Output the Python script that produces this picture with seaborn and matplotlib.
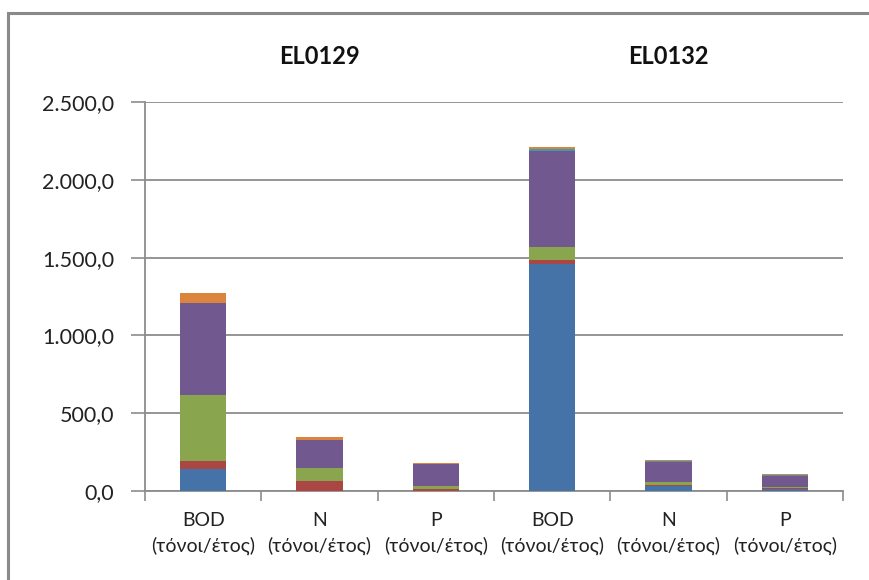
import matplotlib
matplotlib.use("Agg")
import matplotlib.pyplot as plt
import matplotlib.patches as mpatches
from matplotlib.transforms import blended_transform_factory
from matplotlib.ticker import FuncFormatter, FixedLocator
import numpy as np
import pandas as pd
import seaborn as sns

# Water bodies and the load parameters reported for each
stations = ["EL0129", "EL0132"]
parameters = ["BOD\n(τόνοι/έτος)", "N\n(τόνοι/έτος)", "P\n(τόνοι/έτος)"]

# Annual loads per pressure source (tonnes/year), stacked bottom to top
source_1 = [140, 0, 2, 1457, 32, 11]
source_2 = [55, 64, 13, 26, 9, 8]
source_3 = [420, 82, 15, 82, 19, 9]
source_4 = [596, 182, 142, 623, 129, 70]
source_5 = [0, 0, 0, 10, 6, 4]
source_6 = [64, 17, 8, 12, 7, 5]

layers = [source_1, source_2, source_3, source_4, source_5, source_6]
colors = ["#4572A7", "#AA4643", "#89A54E", "#71588F", "#4198AF", "#DB843D"]

keys = [f"{s} {p.split(chr(10))[0]}" for s in stations for p in parameters]
tick_labels = [p for s in stations for p in parameters]

sns.set_theme(style="white")
plt.rcParams["font.family"] = ["Lato", "Open Sans", "DejaVu Sans"]

fig = plt.figure(figsize=(8.69, 5.80), dpi=100)
ax = fig.add_axes([145 / 869, 1 - 491 / 580, (843 - 145) / 869, (491 - 102) / 580])

# Cumulative heights, drawn tallest first so lower segments sit on top
cum = np.cumsum(np.array(layers, dtype=float), axis=0)
for level in range(len(layers) - 1, -1, -1):
    df = pd.DataFrame({"key": keys, "load": cum[level]})
    sns.barplot(data=df, x="key", y="load", order=keys, color=colors[level],
                saturation=1, width=0.4, linewidth=0, ax=ax, zorder=3)

ax.set_ylim(0, 2500)
ax.set_xlim(-0.5, len(keys) - 0.5)
ax.yaxis.set_major_locator(FixedLocator([0, 500, 1000, 1500, 2000, 2500]))


def greek_number(v, pos):
    s = f"{v:,.1f}"
    return s.replace(",", "X").replace(".", ",").replace("X", ".")


ax.yaxis.set_major_formatter(FuncFormatter(greek_number))
ax.set_xlabel("")
ax.set_ylabel("")

grid_color = "#8C8C8C"
ax.grid(axis="y", color=grid_color, linewidth=1.3, zorder=0)
ax.set_axisbelow(True)
for side in ["top", "right"]:
    ax.spines[side].set_visible(False)
for side in ["left", "bottom"]:
    ax.spines[side].set_color(grid_color)
    ax.spines[side].set_linewidth(1.3)

ax.set_xticks(range(len(keys)))
ax.set_xticklabels(tick_labels, fontsize=14, color="#222222", linespacing=1.5)
ax.xaxis.set_minor_locator(FixedLocator(np.arange(-0.5, len(keys), 1.0)))
ax.tick_params(axis="x", which="major", length=0, pad=15)
ax.tick_params(axis="x", which="minor", length=7, width=1.2, color=grid_color, bottom=True)
ax.tick_params(axis="y", which="major", length=10, width=1.2, color=grid_color,
               left=True, labelsize=15.5, labelcolor="#222222", pad=12)

# Station names centred above each group of bars
title_tf = blended_transform_factory(ax.transData, fig.transFigure)
for i, name in enumerate(stations):
    ax.text(i * 3 + 1, 1 - 57 / 580, name, transform=title_tf, ha="center", va="center",
            fontsize=17, fontweight="bold", color="#111111")

# Chart frame
frame = mpatches.Rectangle((8 / 869, -0.1), 1.2, 1.1 - 13 / 580, transform=fig.transFigure,
                           fill=False, edgecolor="#8A8A8A", linewidth=2.2, clip_on=False)
fig.patches.append(frame)

fig.savefig("out.png", dpi=100)
